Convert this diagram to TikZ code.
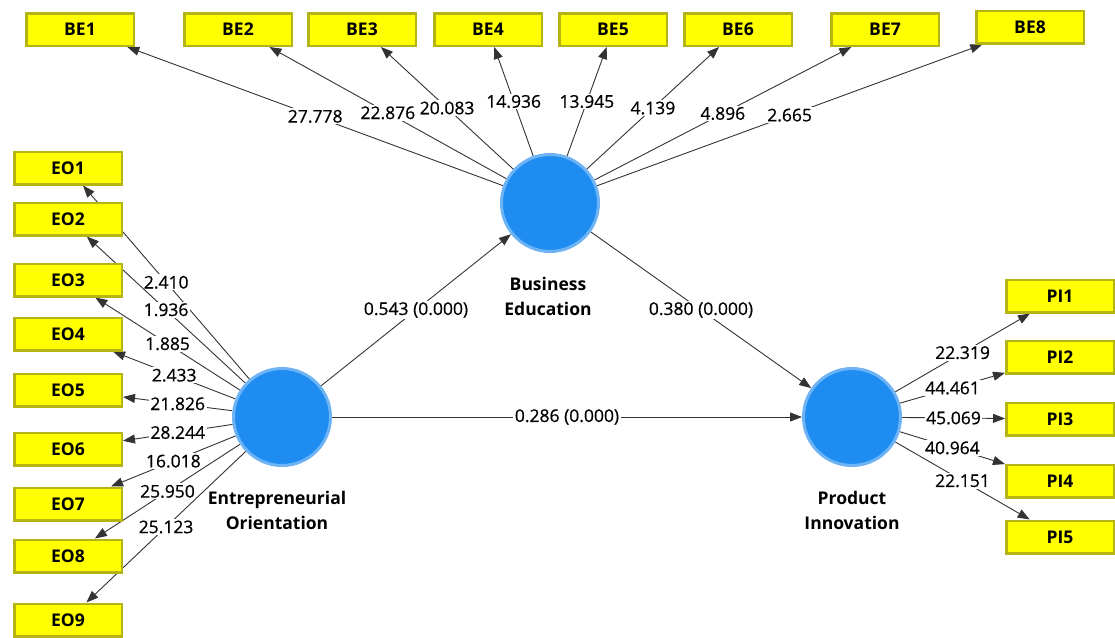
\documentclass[tikz,border=0pt]{standalone}
\usepackage{fontspec}
\setmainfont{Open Sans}
\usetikzlibrary{arrows.meta,backgrounds}
\definecolor{boxyellow}{RGB}{255,255,0}
\definecolor{boxedge}{RGB}{180,180,20}
\definecolor{lvblue}{RGB}{30,140,240}
\definecolor{lvring}{RGB}{110,180,245}
\tikzset{
  ind/.style={draw=boxedge, line width=2.5pt, fill=boxyellow, minimum width=107.5pt, minimum height=32.5pt, inner sep=0pt, font=\fontsize{17.5}{17.5}\selectfont\bfseries},
  lv/.style={circle, fill=lvblue, draw=lvring, line width=3pt, minimum size=97pt, inner sep=0pt},
  lvname/.style={align=center, font=\fontsize{17.5}{25}\selectfont\bfseries},
  link/.style={draw=black!80, line width=0.9pt, -{Triangle[length=12pt,width=9pt]}},
  wt/.style={fill=white, inner sep=1.5pt, font=\fontsize{17.5}{17.5}\selectfont\addfontfeature{FakeBold=0.6}}
}
\begin{document}
\begin{tikzpicture}[x=1pt,y=-1pt]
\useasboundingbox (0,0) rectangle (1115,637);
\node[lv] (EO) at (282,417) {};
\node[lv] (BE) at (550,203) {};
\node[lv] (PI) at (852,417) {};
\node[lvname] (EOname) at (277,510) {Entrepreneurial\\Orientation};
\node[lvname] (BEname) at (548,296) {Business\\Education};
\node[lvname] (PIname) at (852,510) {Product\\Innovation};
\foreach \i/\x/\y in {1/80/29.5,2/238/29.5,3/362/29.5,4/488/29.5,5/613/29.5,6/738/29.5,7/885/29.5,8/1030/27}
  \node[ind] (be\i) at (\x,\y) {BE\i};
\foreach \i/\y in {1/168,2/219,3/280,4/334,5/390,6/449,7/504,8/556,9/620}
  \node[ind] (eo\i) at (68,\y) {EO\i};
\foreach \i/\y in {1/296,2/357,3/419,4/481,5/537}
  \node[ind] (pi\i) at (1060,\y) {PI\i};
\begin{scope}[on background layer]
\foreach \i/\w in {1/27.778,2/22.876,3/20.083,4/14.936,5/13.945,6/4.139,7/4.896,8/2.665}
  \draw[link] (BE) -- node[wt,midway] {\w} (be\i);
\foreach \i/\w in {1/2.410,2/1.936,3/1.885,4/2.433,5/21.826,6/28.244,7/16.018,8/25.950,9/25.123}
  \draw[link] (EO) -- node[wt,midway] {\w} (eo\i);
\foreach \i/\w in {1/22.319,2/44.461,3/45.069,4/40.964,5/22.151}
  \draw[link] (PI) -- node[wt,midway] {\w} (pi\i);
\draw[link] (EO) -- node[wt,midway] {0.543 (0.000)} (BE);
\draw[link] (BE) -- node[wt,midway] {0.380 (0.000)} (PI);
\draw[link] (EO) -- node[wt,midway] {0.286 (0.000)} (PI);
\end{scope}
\end{tikzpicture}
\end{document}
